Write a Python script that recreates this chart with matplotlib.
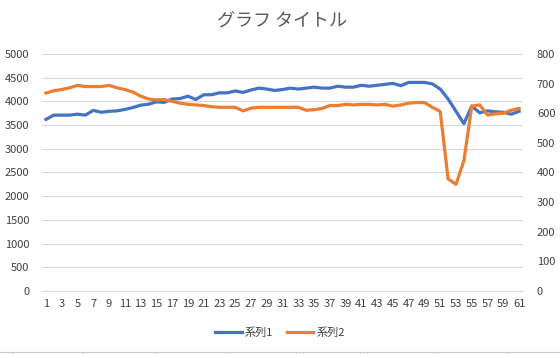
import matplotlib.pyplot as plt
from matplotlib.lines import Line2D

plt.rcParams['font.family'] = ['Noto Sans CJK JP', 'DejaVu Sans']

# データ
x = list(range(1, 62))
series1 = [3620, 3710, 3710, 3710, 3730, 3710, 3810, 3770, 3790, 3800,
           3830, 3870, 3920, 3940, 3990, 3980, 4050, 4060, 4110, 4040,
           4140, 4140, 4180, 4180, 4220, 4190, 4240, 4280, 4260, 4230,
           4250, 4280, 4260, 4280, 4300, 4280, 4280, 4320, 4300, 4300,
           4340, 4320, 4340, 4360, 4380, 4330, 4400, 4400, 4400, 4370,
           4260, 4050, 3790, 3530, 3900, 3760, 3800, 3780, 3770, 3730,
           3790]
series2 = [668, 676, 680, 686, 694, 690, 690, 690, 694, 686,
           680, 672, 658, 648, 645, 646, 640, 634, 630, 628,
           626, 622, 620, 620, 620, 608, 617, 620, 620, 620,
           620, 620, 620, 610, 612, 616, 626, 626, 630, 628,
           630, 630, 628, 630, 624, 628, 634, 636, 636, 620,
           606, 378, 360, 440, 624, 628, 594, 598, 600, 610,
           616]
names = ["系列1", "系列2"]
xticks = list(range(1, 62, 2))

fig = plt.figure(figsize=(5.6, 3.54), dpi=100)
ax = fig.add_axes([0.075, 0.178, 0.859, 0.6695])
ax2 = ax.twinx()

grey = "#595959"
dark = "#404040"
l1, = ax.plot(x, series1, color="#4472C4", lw=2.3, label=names[0], zorder=3)
l2, = ax2.plot(x, series2, color="#ED7D31", lw=2.3, label=names[1], zorder=3)

ax.set_xlim(0.5, 61.5)
ax.set_ylim(0, 5000)
ax.set_yticks(range(0, 5001, 500))
ax2.set_ylim(0, 800)
ax2.set_yticks(range(0, 801, 100))
ax.set_xticks(xticks)

ax.grid(axis="y", color="#D9D9D9", lw=0.8)
ax.set_axisbelow(True)
for a in (ax, ax2):
    for s in a.spines.values():
        s.set_visible(False)
ax.spines["bottom"].set_visible(True)
ax.spines["bottom"].set_color("#D9D9D9")

ax.tick_params(axis="y", length=0, pad=9, labelsize=8, labelcolor=dark)
ax2.tick_params(axis="y", length=0, pad=10, labelsize=8, labelcolor=dark)
ax.tick_params(axis="x", length=0, pad=6, labelsize=8, labelcolor=dark)

fig.text(0.503, 0.938, "グラフ タイトル", ha="center", va="center",
         fontsize=13, color=grey)

fig.legend(handles=[l1, l2], loc="center", bbox_to_anchor=(0.5, 0.06),
           ncol=2, frameon=False, fontsize=8, labelcolor=dark,
           handlelength=2.4, columnspacing=1.2, handletextpad=0.3)

# 下端のセル罫線
y_line = 1 - 352 / 354
fig.add_artist(Line2D([0, 1], [y_line, y_line], transform=fig.transFigure,
                      color="#C8C8C8", lw=0.8))
for cx in range(12, 560, 71):
    fig.add_artist(Line2D([cx / 560, cx / 560], [0, y_line],
                          transform=fig.transFigure, color="#D0D0D0", lw=0.6))

plt.savefig("out.png", dpi=100)
